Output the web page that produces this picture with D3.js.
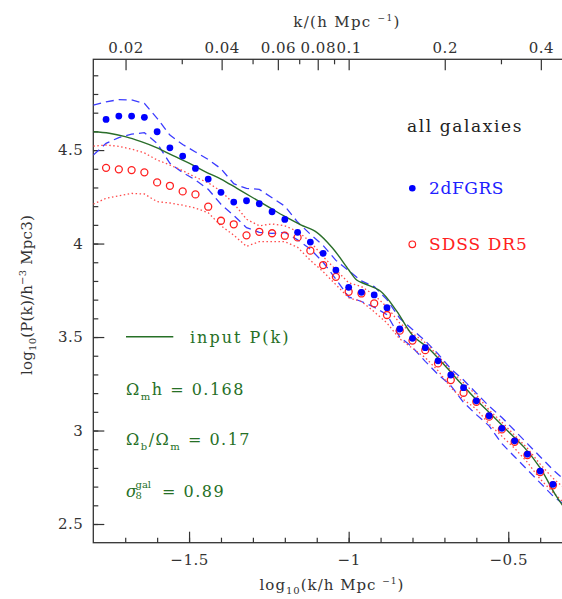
<!DOCTYPE html>
<html>
<head>
<meta charset="UTF-8">
<title>P(k)</title>
<style>
  body { margin: 0; background: #fff; }
  svg text { font-family: "DejaVu Serif", serif; }
  .axis text { font-size: 15px; fill: #333; letter-spacing: 0.5px; }
  .axis line { stroke: #333; stroke-width: 1.2px; }
  .axis path { display: none; }
</style>
</head>
<body>
<svg id="chart" width="562" height="599"></svg>

<script src="https://cdn.jsdelivr.net/npm/d3@7"></script>
<script>
  "use strict";

  // measured points, log10 k
  var pointK = [-1.76,-1.72,-1.68,-1.64,-1.60,-1.56,-1.52,-1.48,-1.44,-1.40,-1.36,-1.32,
    -1.28,-1.24,-1.20,-1.16,-1.12,-1.08,-1.04,-1.00,-0.96,-0.92,-0.88,-0.84,
    -0.80,-0.76,-0.72,-0.68,-0.64,-0.60,-0.56,-0.52,-0.48,-0.44,-0.40,-0.36];
  var twodf = [4.664,4.682,4.682,4.675,4.598,4.512,4.468,4.402,4.345,4.274,4.222,4.229,
    4.213,4.170,4.129,4.060,4.008,3.948,3.858,3.766,3.739,3.725,3.657,3.543,
    3.493,3.443,3.373,3.297,3.229,3.159,3.079,3.012,2.945,2.874,2.783,2.712];
  var sdss = [4.405,4.397,4.393,4.381,4.327,4.309,4.279,4.263,4.197,4.122,4.103,4.044,
    4.063,4.055,4.042,4.033,3.962,3.885,3.822,3.742,3.733,3.680,3.618,3.534,
    3.481,3.430,3.359,3.270,3.202,3.154,3.074,3.006,2.940,2.869,2.778,2.707];

  // error envelopes
  var envK = [-1.80,-1.76,-1.72,-1.68,-1.64,-1.60,-1.56,-1.52,-1.48,-1.44,-1.40,-1.36,-1.32,
    -1.28,-1.24,-1.20,-1.16,-1.12,-1.08,-1.04,-1.00,-0.96,-0.92,-0.88,-0.84,
    -0.80,-0.76,-0.72,-0.68,-0.64,-0.60,-0.56,-0.52,-0.48,-0.44,-0.40,-0.36,-0.33];
  var twodfHi = [4.740,4.758,4.770,4.768,4.750,4.670,4.580,4.530,4.490,4.450,4.400,4.320,4.295,
    4.290,4.245,4.200,4.115,4.050,3.990,3.910,3.855,3.800,3.770,3.700,3.600,
    3.540,3.480,3.410,3.330,3.270,3.200,3.130,3.070,3.000,2.930,2.860,2.790,2.745];
  var twodfLo = [4.473,4.536,4.567,4.585,4.593,4.536,4.429,4.380,4.340,4.290,4.210,4.150,4.085,
    4.060,4.054,4.060,4.020,3.970,3.900,3.810,3.715,3.690,3.660,3.620,3.500,
    3.445,3.370,3.300,3.240,3.150,3.085,3.025,2.930,2.860,2.790,2.720,2.650,2.611];
  var sdssHi = [4.521,4.527,4.520,4.505,4.485,4.447,4.420,4.390,4.355,4.325,4.280,4.215,4.130,
    4.095,4.105,4.095,4.065,4.010,3.930,3.860,3.790,3.770,3.725,3.660,3.575,
    3.520,3.470,3.400,3.320,3.255,3.190,3.110,3.045,2.975,2.905,2.820,2.745,2.700];
  var sdssLo = [4.211,4.242,4.255,4.268,4.265,4.224,4.217,4.205,4.190,4.165,4.095,4.045,3.985,
    4.010,4.010,4.010,3.980,3.910,3.850,3.780,3.710,3.690,3.635,3.575,3.490,
    3.440,3.390,3.320,3.230,3.165,3.115,3.035,2.970,2.905,2.830,2.740,2.670,2.620];

  // input model
  var modelK = [-1.80,-1.75,-1.70,-1.65,-1.60,-1.55,-1.50,-1.45,-1.40,-1.35,-1.30,-1.25,-1.20,
    -1.15,-1.10,-1.05,-1.00,-0.975,-0.95,-0.90,-0.85,-0.80,-0.75,-0.70,-0.65,
    -0.60,-0.55,-0.50,-0.45,-0.40,-0.35,-0.30];
  var modelP = [4.598,4.590,4.572,4.545,4.512,4.470,4.430,4.385,4.345,4.295,4.245,4.195,4.145,
    4.100,4.060,3.975,3.860,3.805,3.785,3.745,3.640,3.510,3.440,3.350,3.255,
    3.165,3.080,2.995,2.910,2.800,2.650,2.530];

  var yTicks = [2.5, 3, 3.5, 4, 4.5];
  var xTicks = [-1.5, -1, -0.5];
  var topTicks = [0.02, 0.04, 0.06, 0.08, 0.1, 0.2, 0.4];
  var topMinor = [0.03, 0.05, 0.07, 0.09, 0.3];

  var
    pLeft = 93.3, pRight = 572.1,
    pTop = 59.3, pBottom = 542.7,
    svg = d3.select("#chart");

  var x = d3.scaleLinear().domain([-1.8, -0.3]).range([pLeft, pRight]);
  var y = d3.scaleLinear().domain([2.4, 4.9855]).range([pBottom, pTop]);
  var xk = d3.scaleLog().domain([Math.pow(10, -1.8), Math.pow(10, -0.3)]).range([pLeft, pRight]);

  svg.append("rect").attr("width", 562).attr("height", 599).attr("fill", "#fff");

  // frame
  svg.append("rect")
    .attr("x", pLeft).attr("y", pTop)
    .attr("width", pRight - pLeft).attr("height", pBottom - pTop)
    .attr("fill", "none").attr("stroke", "#333").attr("stroke-width", 1.3);

  // axes (ticks point inward)
  svg.append("g").attr("class", "axis")
    .attr("transform", "translate(0," + pBottom + ")")
    .call(d3.axisBottom(x).tickValues(d3.range(-17, -2).map(function(d){ return d / 10; }))
      .tickSize(-5).tickFormat(""));
  svg.append("g").attr("class", "axis")
    .attr("transform", "translate(0," + pBottom + ")")
    .call(d3.axisBottom(x).tickValues(xTicks).tickSize(-11).tickPadding(12)
      .tickFormat(d3.format("")));

  svg.append("g").attr("class", "axis")
    .attr("transform", "translate(" + pLeft + ",0)")
    .call(d3.axisLeft(y).tickValues(d3.range(25, 50).map(function(d){ return d / 10; }))
      .tickSize(-5).tickFormat(""));
  svg.append("g").attr("class", "axis")
    .attr("transform", "translate(" + pLeft + ",0)")
    .call(d3.axisLeft(y).tickValues(yTicks).tickSize(-11).tickPadding(10)
      .tickFormat(d3.format("")));

  svg.append("g").attr("class", "axis")
    .attr("transform", "translate(0," + pTop + ")")
    .call(d3.axisTop(xk).tickValues(topMinor).tickSize(-5).tickFormat(""));
  svg.append("g").attr("class", "axis")
    .attr("transform", "translate(0," + pTop + ")")
    .call(d3.axisTop(xk).tickValues(topTicks).tickSize(-11).tickPadding(6)
      .tickFormat(function(d){ return String(d); }));

  // clip
  svg.append("clipPath").attr("id", "clip")
    .append("rect").attr("x", pLeft).attr("y", pTop)
    .attr("width", pRight - pLeft).attr("height", pBottom - pTop);
  var plot = svg.append("g").attr("clip-path", "url(#clip)");

  var line = d3.line()
    .x(function(d){ return x(d[0]); })
    .y(function(d){ return y(d[1]); });

  function pairs(ks, vs){ return ks.map(function(k, i){ return [k, vs[i]]; }); }

  [twodfHi, twodfLo].forEach(function(v){
    plot.append("path").datum(pairs(envK, v))
      .attr("d", line).attr("fill", "none")
      .attr("stroke", "#3c3cff").attr("stroke-width", 1.3)
      .attr("stroke-dasharray", "8,5");
  });
  [sdssHi, sdssLo].forEach(function(v){
    plot.append("path").datum(pairs(envK, v))
      .attr("d", line).attr("fill", "none")
      .attr("stroke", "#ff4a4a").attr("stroke-width", 1.3)
      .attr("stroke-dasharray", "1.5,2.5");
  });

  plot.append("path").datum(pairs(modelK, modelP))
    .attr("d", line.curve(d3.curveCatmullRom)).attr("fill", "none")
    .attr("stroke", "#2a6e2a").attr("stroke-width", 1.4);

  plot.selectAll("circle.sdss").data(pairs(pointK, sdss)).enter()
    .append("circle").attr("class", "sdss")
    .attr("cx", function(d){ return x(d[0]); })
    .attr("cy", function(d){ return y(d[1]); })
    .attr("r", 3.5).attr("fill", "none")
    .attr("stroke", "#ff2020").attr("stroke-width", 1.3);

  plot.selectAll("circle.twodf").data(pairs(pointK, twodf)).enter()
    .append("circle").attr("class", "twodf")
    .attr("cx", function(d){ return x(d[0]); })
    .attr("cy", function(d){ return y(d[1]); })
    .attr("r", 3.4).attr("fill", "#0000ff");

  // axis titles
  var t = svg.append("text").attr("x", 332).attr("y", 590)
    .attr("text-anchor", "middle").attr("font-size", 15).attr("fill", "#333")
    .attr("letter-spacing", 1);
  t.append("tspan").text("log");
  t.append("tspan").attr("font-size", 10).attr("dy", 4).text("10");
  t.append("tspan").attr("dy", -4).text("(k/h Mpc ");
  t.append("tspan").attr("font-size", 9).attr("dy", -6).text("\u22121");
  t.append("tspan").attr("dy", 6).text(")");

  t = svg.append("text").attr("x", 347).attr("y", 27)
    .attr("text-anchor", "middle").attr("font-size", 15).attr("fill", "#333")
    .attr("letter-spacing", 1.3);
  t.append("tspan").text("k/(h Mpc ");
  t.append("tspan").attr("font-size", 9).attr("dy", -6).text("\u22121");
  t.append("tspan").attr("dy", 6).text(")");

  t = svg.append("text").attr("transform", "translate(32,295) rotate(-90)")
    .attr("text-anchor", "middle").attr("font-size", 15).attr("fill", "#333")
    .attr("letter-spacing", 0.2);
  t.append("tspan").text("log");
  t.append("tspan").attr("font-size", 10).attr("dy", 4).text("10");
  t.append("tspan").attr("dy", -4).text("(P(k)/h");
  t.append("tspan").attr("font-size", 10).attr("dy", -6).text("\u22123");
  t.append("tspan").attr("dy", 6).text(" Mpc3)");

  // legend
  svg.append("text").attr("x", 407).attr("y", 132).attr("font-size", 17)
    .attr("fill", "#222").attr("letter-spacing", 1.6).text("all galaxies");
  svg.append("circle").attr("cx", 412.3).attr("cy", 188.3).attr("r", 3.3).attr("fill", "#0000ff");
  svg.append("text").attr("x", 429).attr("y", 194).attr("font-size", 17)
    .attr("fill", "#2020ff").attr("letter-spacing", 0.6).text("2dFGRS");
  svg.append("circle").attr("cx", 412.3).attr("cy", 244.3).attr("r", 3.3)
    .attr("fill", "none").attr("stroke", "#ff2020").attr("stroke-width", 1.2);
  svg.append("text").attr("x", 429).attr("y", 250).attr("font-size", 17)
    .attr("fill", "#ff2020").attr("letter-spacing", 1).text("SDSS DR5");

  // model annotation
  var green = "#267026";
  svg.append("line").attr("x1", 126).attr("x2", 173.3).attr("y1", 336.7).attr("y2", 336.7)
    .attr("stroke", green).attr("stroke-width", 1.5);
  svg.append("text").attr("x", 190).attr("y", 342.5).attr("font-size", 16)
    .attr("fill", green).attr("letter-spacing", 2).text("input P(k)");

  t = svg.append("text").attr("x", 126).attr("y", 395).attr("font-size", 16)
    .attr("fill", green).attr("letter-spacing", 1.5);
  t.append("tspan").text("\u03a9");
  t.append("tspan").attr("font-size", 10).attr("dy", 5).text("m");
  t.append("tspan").attr("dy", -5).text("h = 0.168");

  t = svg.append("text").attr("x", 126).attr("y", 445).attr("font-size", 16)
    .attr("fill", green).attr("letter-spacing", 1.5);
  t.append("tspan").text("\u03a9");
  t.append("tspan").attr("font-size", 10).attr("dy", 5).text("b");
  t.append("tspan").attr("dy", -5).text("/\u03a9");
  t.append("tspan").attr("font-size", 10).attr("dy", 5).text("m");
  t.append("tspan").attr("dy", -5).text(" = 0.17");

  svg.append("text").attr("x", 126).attr("y", 497).attr("font-size", 16)
    .attr("fill", green).attr("font-style", "italic").text("\u03c3");
  svg.append("text").attr("x", 135.5).attr("y", 488).attr("font-size", 10)
    .attr("fill", green).text("gal");
  svg.append("text").attr("x", 135.5).attr("y", 499).attr("font-size", 10)
    .attr("fill", green).text("8");
  svg.append("text").attr("x", 162).attr("y", 497).attr("font-size", 16)
    .attr("fill", green).attr("letter-spacing", 1.5).text("= 0.89");
</script>
</body>
</html>
